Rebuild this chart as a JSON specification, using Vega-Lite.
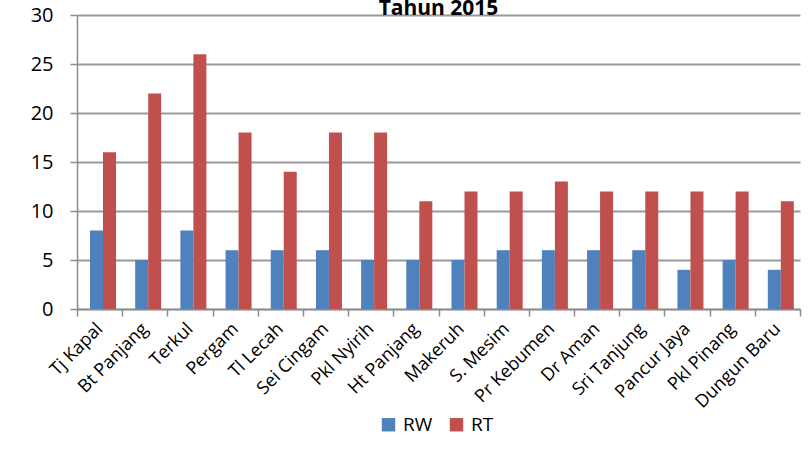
{
  "$schema": "https://vega.github.io/schema/vega-lite/v6.json",
  "width": 723,
  "height": 294,
  "autosize": "none",
  "padding": {"left": 77, "top": 15, "right": 9, "bottom": 157},
  "background": "white",
  "title": {"text": "Tahun 2015", "fontSize": 21, "font": "Open Sans", "fontWeight": "bold", "color": "black", "offset": 0, "dy": 14, "anchor": "middle"},
  "data": {"values": [
    {"desa": "Tj Kapal", "seri": "RW", "jumlah": 8}, {"desa": "Tj Kapal", "seri": "RT", "jumlah": 16},
    {"desa": "Bt Panjang", "seri": "RW", "jumlah": 5}, {"desa": "Bt Panjang", "seri": "RT", "jumlah": 22},
    {"desa": "Terkul", "seri": "RW", "jumlah": 8}, {"desa": "Terkul", "seri": "RT", "jumlah": 26},
    {"desa": "Pergam", "seri": "RW", "jumlah": 6}, {"desa": "Pergam", "seri": "RT", "jumlah": 18},
    {"desa": "Tl Lecah", "seri": "RW", "jumlah": 6}, {"desa": "Tl Lecah", "seri": "RT", "jumlah": 14},
    {"desa": "Sei Cingam", "seri": "RW", "jumlah": 6}, {"desa": "Sei Cingam", "seri": "RT", "jumlah": 18},
    {"desa": "Pkl Nyirih", "seri": "RW", "jumlah": 5}, {"desa": "Pkl Nyirih", "seri": "RT", "jumlah": 18},
    {"desa": "Ht Panjang", "seri": "RW", "jumlah": 5}, {"desa": "Ht Panjang", "seri": "RT", "jumlah": 11},
    {"desa": "Makeruh", "seri": "RW", "jumlah": 5}, {"desa": "Makeruh", "seri": "RT", "jumlah": 12},
    {"desa": "S. Mesim", "seri": "RW", "jumlah": 6}, {"desa": "S. Mesim", "seri": "RT", "jumlah": 12},
    {"desa": "Pr Kebumen", "seri": "RW", "jumlah": 6}, {"desa": "Pr Kebumen", "seri": "RT", "jumlah": 13},
    {"desa": "Dr Aman", "seri": "RW", "jumlah": 6}, {"desa": "Dr Aman", "seri": "RT", "jumlah": 12},
    {"desa": "Sri Tanjung", "seri": "RW", "jumlah": 6}, {"desa": "Sri Tanjung", "seri": "RT", "jumlah": 12},
    {"desa": "Pancur Jaya", "seri": "RW", "jumlah": 4}, {"desa": "Pancur Jaya", "seri": "RT", "jumlah": 12},
    {"desa": "Pkl Pinang", "seri": "RW", "jumlah": 5}, {"desa": "Pkl Pinang", "seri": "RT", "jumlah": 12},
    {"desa": "Dungun Baru", "seri": "RW", "jumlah": 4}, {"desa": "Dungun Baru", "seri": "RT", "jumlah": 11}
  ]},
  "mark": {"type": "bar", "stroke": null},
  "encoding": {
    "x": {
      "field": "desa", "type": "nominal", "sort": null,
      "scale": {"paddingInner": 0, "paddingOuter": 0},
      "axis": {"title": null, "labelAngle": -45, "labelAlign": "right", "labelBaseline": "middle", "labelFontSize": 18, "labelFont": "Open Sans", "labelColor": "black", "labelPadding": 10, "tickBand": "extent", "tickColor": "#8c8c8c", "tickSize": 7, "tickWidth": 1.5, "domainColor": "#8c8c8c", "domainWidth": 1.5}
    },
    "xOffset": {"field": "seri", "type": "nominal", "sort": ["RW", "RT"], "scale": {"range": [13, 39], "paddingInner": 0, "paddingOuter": 0}},
    "y": {
      "field": "jumlah", "type": "quantitative",
      "scale": {"domain": [0, 30]},
      "axis": {"title": null, "values": [0, 5, 10, 15, 20, 25, 30], "labelFontSize": 20, "labelFont": "Open Sans", "labelColor": "black", "labelPadding": 17, "tickColor": "#8c8c8c", "tickSize": 7, "tickWidth": 1.5, "domainColor": "#8c8c8c", "domainWidth": 1.5, "gridColor": "#999", "gridWidth": 2}
    },
    "color": {
      "field": "seri", "type": "nominal",
      "scale": {"domain": ["RW", "RT"], "range": ["#4F81BD", "#C0504D"]},
      "legend": {"title": null, "orient": "none", "direction": "horizontal", "legendX": 302, "legendY": 400, "symbolType": "square", "symbolSize": 180, "symbolStrokeWidth": 0, "labelFontSize": 19, "labelFont": "Open Sans", "labelColor": "black", "columnPadding": 14, "labelOffset": 5}
    }
  },
  "config": {"view": {"stroke": null}}
}
